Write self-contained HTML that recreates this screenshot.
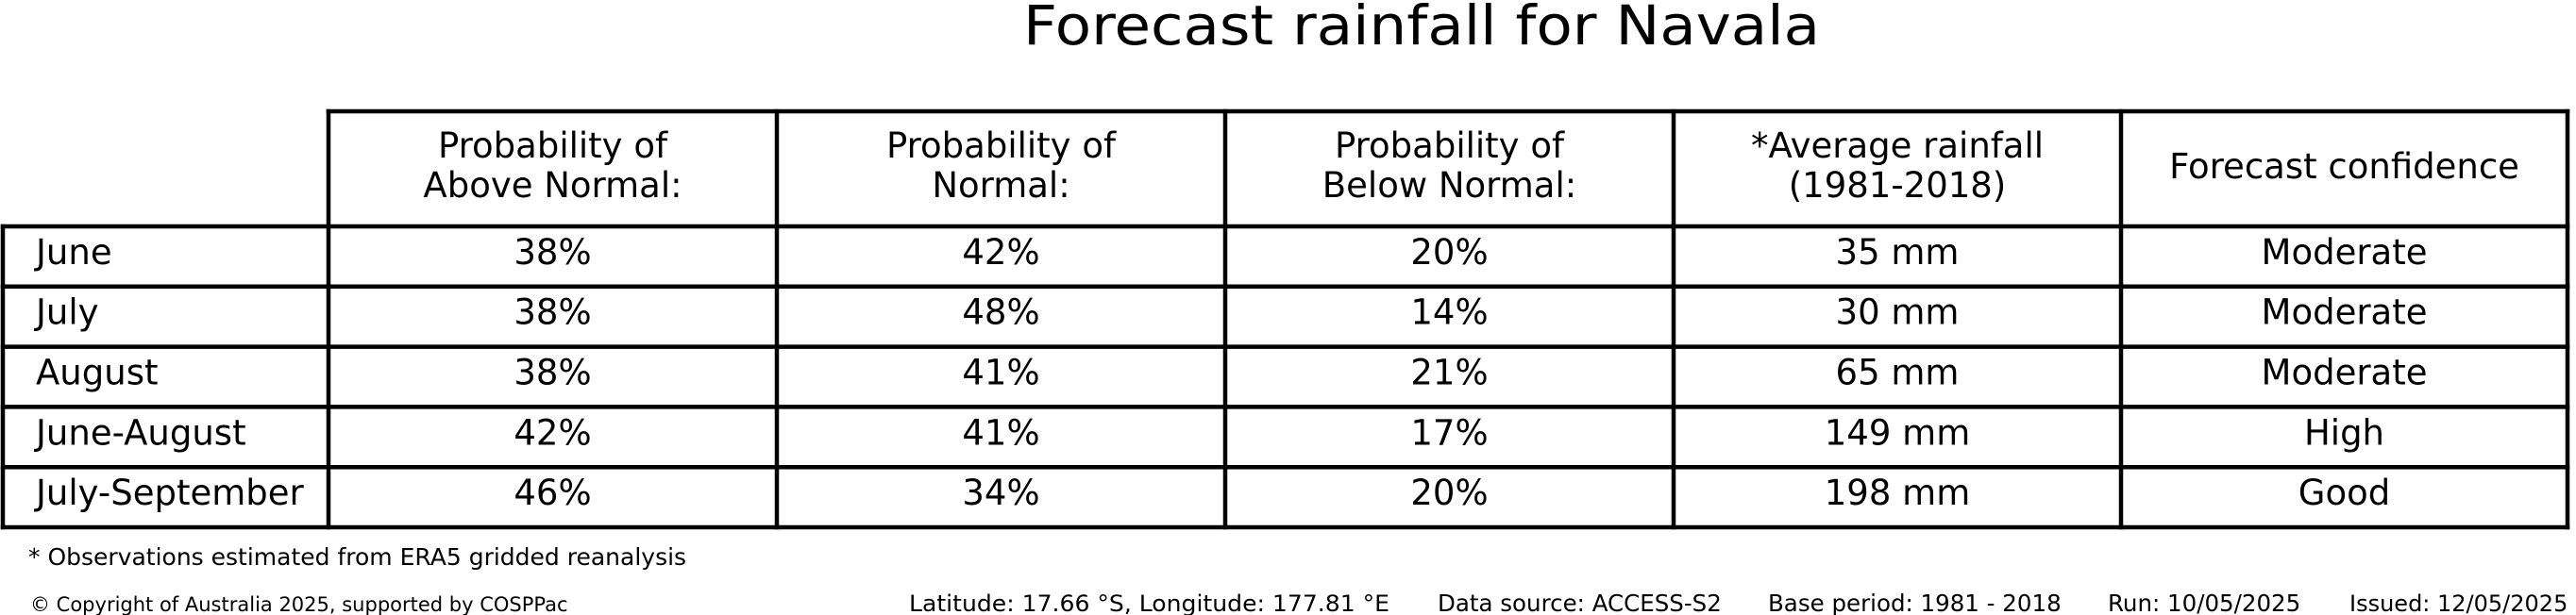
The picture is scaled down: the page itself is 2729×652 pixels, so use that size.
<!DOCTYPE html>
<html><head><meta charset="utf-8"><style>
html,body{margin:0;padding:0;background:#fff;width:2729px;height:652px;overflow:hidden}
text{font-family:"DejaVu Sans","Liberation Sans",sans-serif;fill:#000}
</style></head><body>
<svg id="chart" width="2729" height="652" viewBox="0 0 2729 652" xmlns="http://www.w3.org/2000/svg">
<text x="1506" y="47" font-size="58" text-anchor="middle" textLength="844" lengthAdjust="spacingAndGlyphs">Forecast rainfall for Navala</text>
<g id="grid"></g>
<g id="cells"></g>
<text x="30" y="599" font-size="25">* Observations estimated from ERA5 gridded reanalysis</text>
<text x="32" y="648" font-size="21">© Copyright of Australia 2025, supported by COSPPac</text>
<text x="963" y="648" font-size="24" textLength="509" lengthAdjust="spacingAndGlyphs">Latitude: 17.66 °S, Longitude: 177.81 °E</text>
<text x="1523" y="648" font-size="24.5">Data source: ACCESS-S2</text>
<text x="1873" y="648" font-size="24.5">Base period: 1981 - 2018</text>
<text x="2233" y="648" font-size="24.5">Run: 10/05/2025</text>
<text x="2489" y="648" font-size="24">Issued: 12/05/2025</text>
</svg>
<script>
const rowLabels = ["June","July","August","June-August","July-September"];
const headers = [["Probability of","Above Normal:"],["Probability of","Normal:"],["Probability of","Below Normal:"],["*Average rainfall","(1981-2018)"],["Forecast confidence"]];
const aboveNormal = ["38%","38%","38%","42%","46%"];
const normal = ["42%","48%","41%","41%","34%"];
const belowNormal = ["20%","14%","21%","17%","20%"];
const avgRainfall = ["35 mm","30 mm","65 mm","149 mm","198 mm"];
const confidence = ["Moderate","Moderate","Moderate","High","Good"];

const NS = "http://www.w3.org/2000/svg";
const colX = [3, 348, 823, 1298, 1773, 2247, 2720];
const topY = 118, headY = 240, rowH = 63.8;
const rowY = i => headY + i * rowH;
const grid = document.getElementById('grid');
const cells = document.getElementById('cells');
function line(x1,y1,x2,y2,name){
  const l = document.createElementNS(NS,'line');
  l.setAttribute('x1',x1);l.setAttribute('y1',y1);l.setAttribute('x2',x2);l.setAttribute('y2',y2);
  l.setAttribute('stroke','#000');l.setAttribute('stroke-width','4.5');l.setAttribute('stroke-linecap','square');
  
  
  grid.appendChild(l);
}
function txt(x,y,s,anchor,name){
  const t = document.createElementNS(NS,'text');
  t.setAttribute('x',x);t.setAttribute('y',y);t.setAttribute('font-size','37');
  t.setAttribute('text-anchor',anchor);t.textContent = s;
  
  
  cells.appendChild(t);
}
const nRows = rowLabels.length;
const bottom = rowY(nRows);
line(colX[1], topY, colX[6], topY, 'header-top-border');
for (let i = 0; i <= nRows; i++) line(colX[0], rowY(i), colX[6], rowY(i), 'row-border');
line(colX[0], headY, colX[0], bottom, 'left-border');
for (let c = 1; c < colX.length; c++) line(colX[c], topY, colX[c], bottom, 'column-border');
headers.forEach((h, c) => {
  const cx = (colX[c+1] + colX[c+2]) / 2;
  if (h.length === 2) {
    txt(cx, 167, h[0], 'middle', 'column-header');
    txt(cx, 209, h[1], 'middle', 'column-header');
  } else {
    txt(cx, 189, h[0], 'middle', 'column-header');
  }
});
const cols = [aboveNormal, normal, belowNormal, avgRainfall, confidence];
rowLabels.forEach((r, i) => {
  const y = rowY(i) + rowH / 2 + 8;
  txt(38, y, r, 'start', 'row-label');
  cols.forEach((arr, c) => {
    txt((colX[c+1] + colX[c+2]) / 2, y, arr[i], 'middle', 'table-cell');
  });
});
</script>
</body></html>
